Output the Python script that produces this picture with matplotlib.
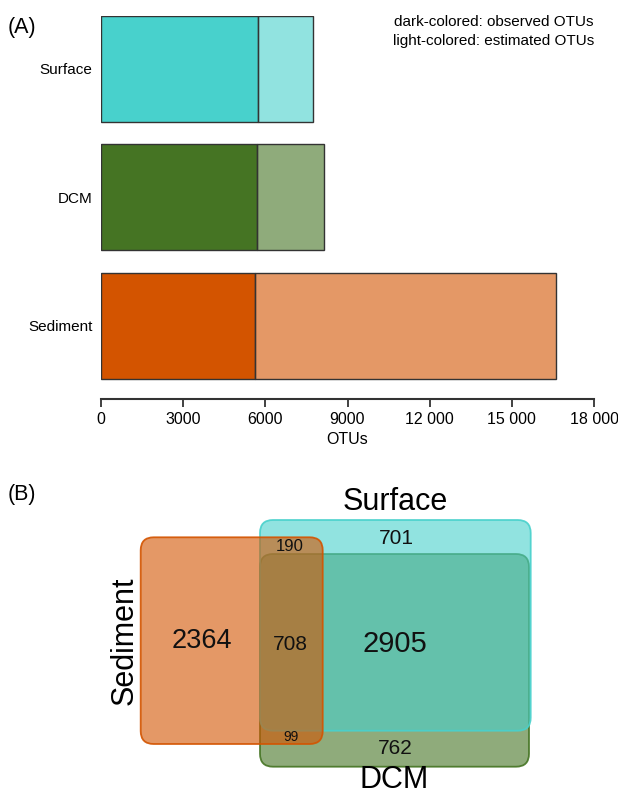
import matplotlib
matplotlib.use("Agg")
import matplotlib.pyplot as plt
from matplotlib.patches import FancyBboxPatch
from matplotlib.colors import to_rgba

plt.rcParams['font.family'] = ['Liberation Sans', 'DejaVu Sans']

# ---------------- data ----------------
samples = ['Surface', 'DCM', 'Sediment']
observed_otus = [5730, 5680, 5610]
estimated_otus = [7750, 8140, 16610]
dark_colors = ['#48D1CC', '#457423', '#D35400']
xtick_values = [0, 3000, 6000, 9000, 12000, 15000, 18000]
xtick_labels = ['0', '3000', '6000', '9000', '12 000', '15 000', '18 000']

venn_sets = ['Surface', 'DCM', 'Sediment']
venn_region_names = ['Sediment only', 'Sed&Surf&DCM', 'Surf&DCM', 'Surface only',
                     'Sed&Surf', 'Sed&DCM', 'DCM only']
venn_counts = [2364, 708, 2905, 701, 190, 99, 762]

W, H = 618, 794
fig = plt.figure(figsize=(W / 100, H / 100), dpi=100)

# ---------------- panel A ----------------
x0, x1 = 101, 594
ytop, ybot = 15.7, 399.3
axA = fig.add_axes([x0 / W, 1 - ybot / H, (x1 - x0) / W, (ybot - ytop) / H])
pos = list(range(len(samples)))
spacing = 128.5
half = 53 / spacing
axA.set_xlim(0, 18000)
axA.set_ylim((ybot - 68.7) / spacing, -half)

for i, s in enumerate(samples):
    c = dark_colors[i]
    axA.barh(pos[i], observed_otus[i], height=2 * half, color=c,
             edgecolor='#333333', linewidth=1.0, zorder=3)
    axA.barh(pos[i], estimated_otus[i] - observed_otus[i], left=observed_otus[i],
             height=2 * half, color=to_rgba(c, 0.6), edgecolor='#333333',
             linewidth=1.0, zorder=3)

for sp in ['left', 'top', 'right']:
    axA.spines[sp].set_visible(False)
axA.spines['bottom'].set_linewidth(1.5)
axA.spines['bottom'].set_color('#333333')
axA.set_xticks(xtick_values)
axA.set_xticklabels(xtick_labels, fontsize=11.5)
axA.tick_params(axis='x', length=6, width=1.3, color='#333333', pad=3)
axA.set_yticks(pos)
axA.set_yticklabels(samples, fontsize=11)
axA.tick_params(axis='y', length=0, pad=6)
axA.set_xlabel('OTUs', fontsize=11.5, labelpad=4)

fig.text(8 / W, 1 - 28 / H, '(A)', fontsize=15.5, ha='left', va='center')
fig.text(594 / W, 1 - 22 / H, 'dark-colored: observed OTUs', fontsize=11,
         ha='right', va='center')
fig.text(594 / W, 1 - 41 / H, 'light-colored: estimated OTUs', fontsize=11,
         ha='right', va='center')

# ---------------- panel B (Venn) ----------------
top = 460
axB = fig.add_axes([0, 0, 1, (H - top) / H])
axB.set_xlim(0, W)
axB.set_ylim(H, top)
axB.axis('off')

set_color = dict(zip(samples, dark_colors))
rects = {
    'DCM': (260, 554, 269, 212.7),
    'Surface': (260, 520, 270.7, 210.7),
    'Sediment': (140.7, 537.3, 182, 206.7),
}
for name in ['DCM', 'Surface', 'Sediment']:
    x, y, w, h = rects[name]
    c = set_color[name]
    p = FancyBboxPatch((x, y), w, h, boxstyle='round,pad=0,rounding_size=13',
                       facecolor=to_rgba(c, 0.6), edgecolor=to_rgba(c, 0.9),
                       linewidth=1.3)
    axB.add_patch(p)

label_pos = {
    'Sediment only': (201.7, 641, 19.5),
    'Sed&Surf&DCM': (290, 644, 15),
    'Surf&DCM': (395, 644, 21),
    'Surface only': (396.7, 539, 15),
    'Sed&Surf': (290, 546.7, 12),
    'Sed&DCM': (290.7, 737, 10),
    'DCM only': (395, 748, 15),
}
for name, cnt in zip(venn_region_names, venn_counts):
    x, y, fs = label_pos[name]
    axB.text(x, y, str(cnt), fontsize=fs, ha='center', va='center', color='#111111')

axB.text(395, 502, venn_sets[0], fontsize=22, ha='center', va='center')
axB.text(394, 780, venn_sets[1], fontsize=22, ha='center', va='center')
axB.text(124.5, 641, venn_sets[2], fontsize=22, ha='center', va='center', rotation=90)

fig.text(8 / W, 1 - 494 / H, '(B)', fontsize=15.5, ha='left', va='center')

fig.savefig('out.png', dpi=100)
